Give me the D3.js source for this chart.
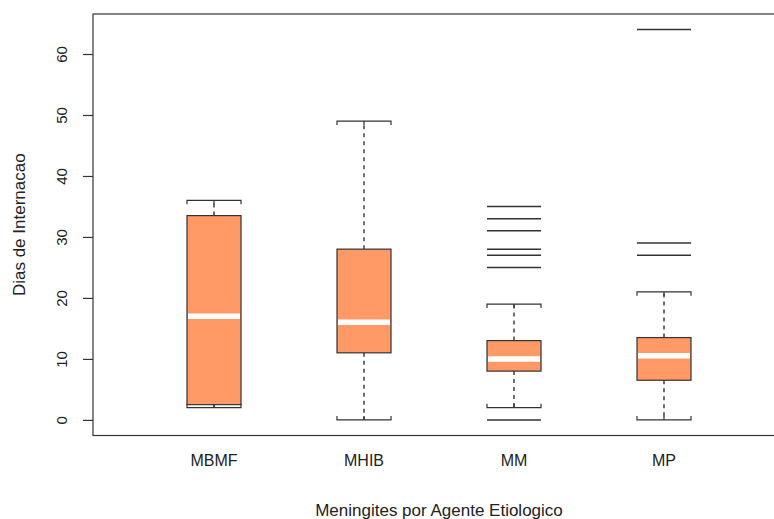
<!DOCTYPE html>
<html>
<head>
<meta charset="utf-8">
<script src="https://cdn.jsdelivr.net/npm/d3@7"></script>
<style>
  html, body { margin: 0; padding: 0; background: #fff; }
  svg { display: block; font-family: "Liberation Sans", Arial, sans-serif; }
</style>
</head>
<body>
<svg id="chart" width="774" height="519"></svg>
<script>
// Hospital stay (days) by etiologic agent of meningitis
const categories = ["MBMF", "MHIB", "MM", "MP"];
const lowerWhisker = [2, 0, 2, 0];
const q1 = [2.5, 11, 8, 6.5];
const median = [17, 16, 10, 10.5];
const q3 = [33.5, 28, 13, 13.5];
const upperWhisker = [36, 49, 19, 21];
const outliers = [[], [], [0, 25, 27, 28, 31, 33, 35], [27, 29, 64]];
const yTicks = [0, 10, 20, 30, 40, 50, 60];

const boxes = categories.map((c, i) => ({
  name: c,
  lo: lowerWhisker[i], q1: q1[i], med: median[i], q3: q3[i], hi: upperWhisker[i],
  out: outliers[i]
}));

const svg = d3.select("#chart");
const plot = { left: 93, right: 785, top: 14, bottom: 435.5 };
const ink = "#333";

// value range padded by 4% on both ends
const allVals = boxes.flatMap(b => [b.lo, b.hi, ...b.out]);
const vMin = d3.min(allVals), vMax = d3.max(allVals);
const pad = (vMax - vMin) * 0.04;

const y = d3.scaleLinear().domain([vMin - pad, vMax + pad]).range([plot.bottom, plot.top]);
const x = d3.scalePoint().domain(categories).range([plot.left, plot.right]).padding(0.8067);
const halfW = 27;

// frame
svg.append("rect")
  .attr("x", plot.left).attr("y", plot.top)
  .attr("width", plot.right - plot.left).attr("height", plot.bottom - plot.top)
  .attr("fill", "none").attr("stroke", ink).attr("stroke-width", 1.2);

// y axis (ticks + rotated labels)
const yAxis = svg.append("g").attr("transform", `translate(${plot.left},0)`)
  .call(d3.axisLeft(y).tickValues(yTicks).tickSize(10).tickSizeOuter(0).tickFormat(d3.format("d")));
yAxis.select(".domain").remove();
yAxis.selectAll(".tick line").attr("stroke", ink).attr("stroke-width", 1.2);
yAxis.selectAll(".tick text")
  .attr("x", null).attr("dy", null)
  .attr("text-anchor", "middle")
  .attr("transform", "translate(-26,0) rotate(-90)")
  .attr("font-size", 15).attr("fill", "#222")
  .attr("font-family", "Liberation Sans, Arial, sans-serif");

// category labels
svg.append("g").selectAll("text").data(categories).join("text")
  .attr("x", d => x(d)).attr("y", 466)
  .attr("text-anchor", "middle").attr("font-size", 16).attr("fill", "#222")
  .text(d => d);

// axis titles
svg.append("text")
  .attr("x", (plot.left + plot.right) / 2).attr("y", 516)
  .attr("text-anchor", "middle").attr("font-size", 17).attr("fill", "#222")
  .text("Meningites por Agente Etiologico");
svg.append("text")
  .attr("transform", `translate(25,${(plot.top + plot.bottom) / 2}) rotate(-90)`)
  .attr("text-anchor", "middle").attr("font-size", 17).attr("fill", "#222")
  .text("Dias de Internacao");

const g = svg.append("g").selectAll("g").data(boxes).join("g")
  .attr("transform", d => `translate(${x(d.name)},0)`);

// dashed whiskers
g.append("line").attr("x1", 0).attr("x2", 0)
  .attr("y1", d => y(d.q3)).attr("y2", d => y(d.hi))
  .attr("stroke", "#111").attr("stroke-width", 1.2).attr("stroke-dasharray", "4,4");
g.append("line").attr("x1", 0).attr("x2", 0)
  .attr("y1", d => y(d.q1)).attr("y2", d => y(d.lo))
  .attr("stroke", "#111").attr("stroke-width", 1.2).attr("stroke-dasharray", "4,4");

// whisker caps with short end serifs turned toward the box
const capPath = (v, dir) => {
  const yy = y(v), s = 4 * dir;
  return `M${-halfW},${yy + s}V${yy}H${halfW}V${yy + s}M0,${yy}V${yy + s}`;
};
g.append("path").attr("d", d => capPath(d.hi, 1))
  .attr("fill", "none").attr("stroke", ink).attr("stroke-width", 1.2);
g.append("path").attr("d", d => capPath(d.lo, -1))
  .attr("fill", "none").attr("stroke", ink).attr("stroke-width", 1.2);

// boxes
g.append("rect")
  .attr("x", -halfW).attr("width", 2 * halfW)
  .attr("y", d => y(d.q3)).attr("height", d => y(d.q1) - y(d.q3))
  .attr("fill", "#FF9966").attr("stroke", ink).attr("stroke-width", 1.2);

// medians
g.append("line")
  .attr("x1", -halfW + 1).attr("x2", halfW - 1)
  .attr("y1", d => y(d.med)).attr("y2", d => y(d.med))
  .attr("stroke", "#fff").attr("stroke-width", 5.5);

// outliers as horizontal dashes
g.selectAll("line.out").data(d => d.out).join("line").attr("class", "out")
  .attr("x1", -halfW).attr("x2", halfW)
  .attr("y1", v => y(v)).attr("y2", v => y(v))
  .attr("stroke", ink).attr("stroke-width", 1.5);
</script>
</body>
</html>
